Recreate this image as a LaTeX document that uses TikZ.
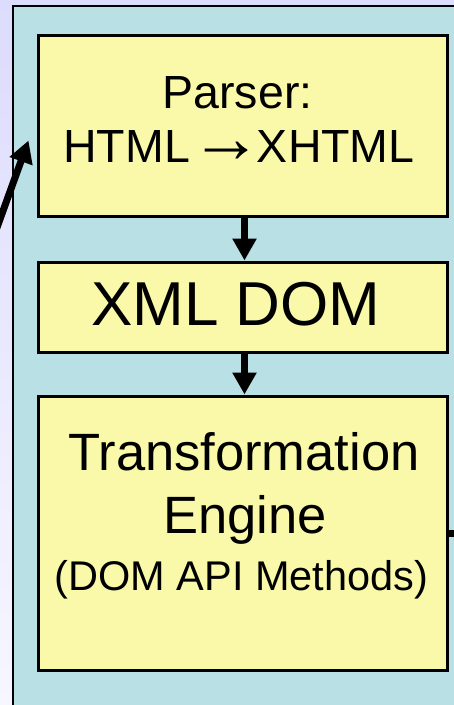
\documentclass[tikz,border=0pt]{standalone}
\usepackage{fontspec}
\setmainfont{Liberation Sans}
\usetikzlibrary{arrows.meta,shadows,calc}
\definecolor{pagebg}{RGB}{220,220,252}
\definecolor{pagebgfade}{RGB}{247,247,255}
\definecolor{panelbg}{RGB}{185,224,228}
\definecolor{stagebg}{RGB}{249,249,169}
\tikzset{
  stagebox/.style={draw=black, line width=3pt, fill=stagebg,
    minimum width=409pt, inner sep=0pt,
    drop shadow={shadow xshift=1.5pt, shadow yshift=-1.5pt, fill=black!70, opacity=0.5}},
  label/.style={anchor=base, inner sep=0pt, text=black},
  flow/.style={line width=7pt, -{Triangle[length=22pt, width=23pt]}},
  feed/.style={line width=7pt}
}
\begin{document}
\begin{tikzpicture}[x=1pt, y=-1pt]
  \useasboundingbox (0,0) rectangle (454,705);
  \clip (0,0) rectangle (454,705);
  % page background
  \shade[top color=pagebg, bottom color=pagebgfade] (0,0) rectangle (454,705);
  % panel holding the pipeline
  \draw[line width=2.5pt, fill=panelbg] (13,6) rectangle (480,740);

  % pipeline stages
  \node[stagebox, minimum height=181pt] (parser) at (242.5,125.5) {};
  \node[stagebox, minimum height=90pt]  (dom)    at (242.5,307) {};
  \node[stagebox, minimum height=274pt] (engine) at (242.5,533) {};

  % stage captions
  \node[label, font=\fontsize{46.5}{54}\selectfont] (parserA) at (237.5,108) {Parser:};
  \node[label, font=\fontsize{46.5}{54}\selectfont] (parserB) at (239,162)
    {HTML\hspace{1pt}\raisebox{0pt}[0pt][0pt]{\resizebox{72pt}{!}{→}}\hspace{-6pt}XHTML};
  \node[label, font=\fontsize{62}{70}\selectfont] (domA) at (236,325) {XML DOM};
  \node[label, font=\fontsize{52.5}{60}\selectfont] (engineA) at (244,470) {Transformation};
  \node[label, font=\fontsize{52.5}{60}\selectfont] (engineB) at (245,533) {Engine};
  \node[label, font=\fontsize{41.5}{48}\selectfont] (engineC) at (241.5,590) {(DOM API Methods)};

  % flow between stages
  \draw[flow] ([xshift=2pt]parser.south) -- ([xshift=2pt]dom.north);
  \draw[flow] ([xshift=2pt]dom.south) -- ([xshift=2pt]engine.north);

  % incoming document and outgoing result
  \coordinate (docin) at (-5,233);
  \coordinate (docintip) at ($(parser.north west)+(-8,107)$);
  \draw[flow] (docin) -- (docintip);
  \coordinate (resout) at (470,533);
  \draw[feed] (engine.east) -- (resout);
\end{tikzpicture}
\end{document}
